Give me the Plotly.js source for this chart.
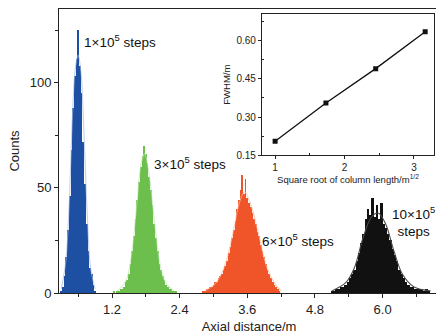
<!DOCTYPE html>
<html>
<head>
<meta charset="utf-8">
<script src="https://cdn.plot.ly/plotly-3.0.1.min.js"></script>
<style>
html,body{margin:0;padding:0;overflow:hidden;background:#fff;}
#chart{width:440px;height:335px;}
</style>
</head>
<body>
<div id="chart"></div>
<script>
// ---- Histogram data (bin centres, counts) ----
var blueX = [0.30,0.33,0.36,0.39,0.42,0.45,0.48,0.51,0.54,0.57,0.60,0.63,0.66,0.69,0.72,0.75,0.78,0.81,0.84,0.87,0.90];
var blueY = [1,3,8,17,30,46,68,88,103,111,125,108,95,72,52,33,20,12,9,4,1];

var greenX = [1.23,1.26,1.29,1.32,1.35,1.38,1.41,1.44,1.47,1.50,1.53,1.56,1.59,1.62,1.65,1.68,1.71,1.74,1.77,1.80,1.83,1.86,1.89,1.92,1.95,1.98,2.01,2.04,2.07,2.10,2.13,2.16,2.19,2.22,2.25,2.28,2.31,2.34];
var greenY = [1,0,1,1,2,2,3,5,6,9,14,20,27,35,44,53,60,65,70,66,62,55,49,42,33,26,20,14,11,8,6,4,3,2,2,1,1,1];

var orangeX = [2.82,2.85,2.88,2.91,2.94,2.97,3.00,3.03,3.06,3.09,3.12,3.15,3.18,3.21,3.24,3.27,3.30,3.33,3.36,3.39,3.42,3.45,3.48,3.51,3.54,3.57,3.60,3.63,3.66,3.69,3.72,3.75,3.78,3.81,3.84,3.87,3.90,3.93,3.96,3.99,4.02,4.05,4.08,4.11,4.14,4.17];
var orangeY = [1,1,2,2,3,3,4,5,5,7,8,9,11,13,15,19,22,26,30,34,40,44,49,56,47,54,45,43,41,38,35,33,29,27,23,20,17,14,11,9,7,5,4,3,2,1];

var blackX = [5.10,5.14,5.18,5.22,5.26,5.30,5.34,5.38,5.42,5.46,5.50,5.54,5.58,5.62,5.66,5.70,5.74,5.78,5.82,5.86,5.90,5.94,5.98,6.02,6.06,6.10,6.14,6.18,6.22,6.26,6.30,6.34,6.38,6.42,6.46,6.50,6.54,6.58,6.62,6.66,6.70,6.74,6.78,6.82];
var blackY = [1,1,2,2,3,3,4,5,7,9,11,15,19,24,28,35,40,37,45,36,42,35,43,33,31,28,25,21,18,15,11,9,7,5,4,3,3,2,2,2,2,1,2,1];

// ---- Fitted curves ----
var blueFitX = [0.30,0.38,0.44,0.50,0.55,0.60,0.65,0.70,0.76,0.82,0.90];
var blueFitY = [2,15,42,85,107,113,105,78,38,12,2];
var greenFitX = [1.30,1.45,1.55,1.65,1.72,1.78,1.85,1.95,2.05,2.15,2.30];
var greenFitY = [1,6,19,45,62,66,58,35,14,5,1];
var orangeFitX = [2.85,3.05,3.20,3.35,3.45,3.55,3.65,3.80,3.95,4.10,4.20];
var orangeFitY = [1,5,13,29,42,48,43,28,12,4,1];
var blackFitX = [5.10,5.35,5.50,5.65,5.80,5.92,6.05,6.20,6.35,6.55,6.85];
var blackFitY = [1,5,12,26,36,38,33,20,9,3,1];

// ---- Inset data ----
var sqrtLen = [1, 1.732, 2.449, 3.162];
var fwhm = [0.205, 0.355, 0.49, 0.635];

// ---- Labels ----
var labels = ["1×10<sup>5</sup> steps","3×10<sup>5</sup> steps","6×10<sup>5</sup> steps","10×10<sup>5</sup><br>steps"];
var xTicks = [1.2, 2.4, 3.6, 4.8, 6.0];
var xTickText = ["1.2","2.4","3.6","4.8","6.0"];
var yTicks = [0, 50, 100];
var insetYTicks = [0.15, 0.30, 0.45, 0.60];
var insetYText = ["0.15","0.30","0.45","0.60"];
var insetXTicks = [1, 2, 3];

function bars(x, y, w, color){
  return {type:'bar', x:x, y:y, width:w, marker:{color:color, line:{width:0}}, hoverinfo:'skip', showlegend:false};
}
function fit(x, y, color){
  return {type:'scatter', mode:'lines', x:x, y:y, line:{color:color, width:1.1, shape:'spline'}, hoverinfo:'skip', showlegend:false};
}

var data = [
  bars(blueX, blueY, 0.031, '#1d4fa3'),
  bars(greenX, greenY, 0.031, '#6cbf4c'),
  bars(orangeX, orangeY, 0.031, '#f0552a'),
  bars(blackX, blackY, 0.041, '#111111'),
  fit(blueFitX, blueFitY, 'rgba(170,190,230,0.7)'),
  fit(greenFitX, greenFitY, 'rgba(190,230,175,0.7)'),
  fit(orangeFitX, orangeFitY, 'rgba(255,185,160,0.7)'),
  fit(blackFitX, blackFitY, '#4a4a4a'),
  {type:'scatter', mode:'lines+markers', x:sqrtLen, y:fwhm, xaxis:'x2', yaxis:'y2',
   line:{color:'#111', width:1.3}, marker:{symbol:'square', size:5, color:'#111'}, hoverinfo:'skip', showlegend:false}
];

var fontFam = 'Liberation Sans, Arial, sans-serif';

var layout = {
  width:440, height:335,
  margin:{l:59, r:1, t:9, b:42},
  paper_bgcolor:'#fff', plot_bgcolor:'#fff',
  barmode:'overlay', bargap:0,
  font:{family:fontFam, color:'#222', size:13},
  xaxis:{
    range:[0.26, 7.0], tickvals:xTicks, ticktext:xTickText,
    ticks:'outside', ticklen:4, tickwidth:1, tickcolor:'#222',
    minor:{tickvals:[0.6,1.8,3.0,4.2,5.4,6.6], ticks:'outside', ticklen:3, tickcolor:'#222'},
    showline:true, linecolor:'#222', linewidth:1, mirror:true,
    showgrid:false, zeroline:false,
    tickfont:{size:13},
    title:{text:'Axial distance/m', font:{size:13}, standoff:6}
  },
  yaxis:{
    range:[0, 135], tickvals:yTicks,
    ticks:'outside', ticklen:4, tickwidth:1, tickcolor:'#222',
    minor:{tickvals:[25,75,125], ticks:'outside', ticklen:3, tickcolor:'#222'},
    showline:true, linecolor:'#222', linewidth:1, mirror:true,
    showgrid:false, zeroline:false,
    tickfont:{size:13},
    title:{text:'Counts', font:{size:13}, standoff:7}
  },
  xaxis2:{
    domain:[0.534, 0.987], anchor:'y2', range:[0.81, 3.29],
    tickvals:insetXTicks, ticks:'outside', ticklen:3, tickcolor:'#222',
    minor:{tickvals:[1.5,2.5], ticks:'inside', ticklen:2, tickcolor:'#222'},
    showline:true, linecolor:'#222', linewidth:1, mirror:true,
    showgrid:false, zeroline:false,
    tickfont:{size:10},
    title:{text:'Square root of column length/m<sup>1/2</sup>', font:{size:9.5}, standoff:0}
  },
  yaxis2:{
    domain:[0.485, 0.982], anchor:'x2', range:[0.15, 0.704],
    tickvals:insetYTicks, ticktext:insetYText, ticks:'outside', ticklen:3, tickcolor:'#222',
    minor:{tickvals:[0.225,0.375,0.525,0.675], ticks:'inside', ticklen:2, tickcolor:'#222'},
    showline:true, linecolor:'#222', linewidth:1, mirror:true,
    showgrid:false, zeroline:false,
    tickfont:{size:10},
    title:{text:'FWHM/m', font:{size:9.5}, standoff:4}
  },
  annotations:[
    {x:0.666, y:120, xref:'x', yref:'y', text:labels[0], showarrow:false, xanchor:'left', yanchor:'middle', font:{size:13.5, color:'#111'}},
    {x:1.91, y:62, xref:'x', yref:'y', text:labels[1], showarrow:false, xanchor:'left', yanchor:'middle', font:{size:13.5, color:'#111'}},
    {x:3.83, y:25, xref:'x', yref:'y', text:labels[2], showarrow:false, xanchor:'left', yanchor:'middle', font:{size:13.5, color:'#111'}},
    {x:6.54, y:34, xref:'x', yref:'y', text:labels[3], showarrow:false, xanchor:'center', yanchor:'middle', align:'center', font:{size:13.5, color:'#111'}}
  ]
};

Plotly.newPlot('chart', data, layout, {staticPlot:true, displayModeBar:false});
</script>
</body>
</html>
